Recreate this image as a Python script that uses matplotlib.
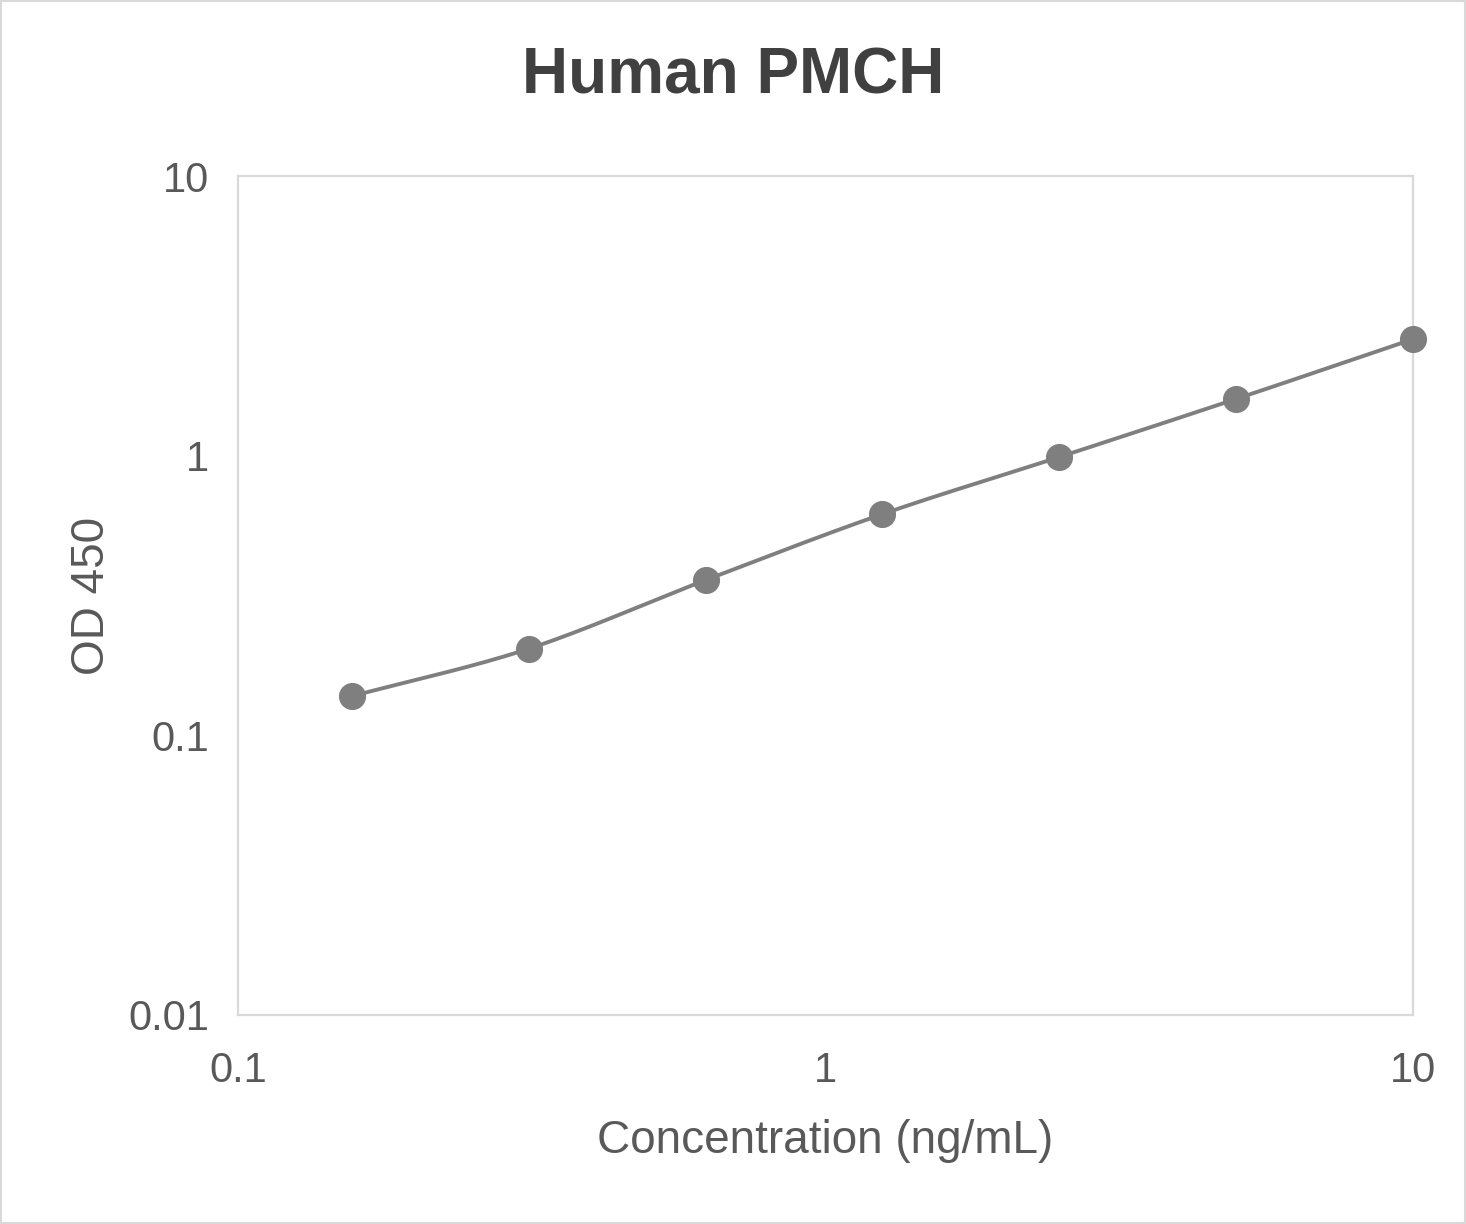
import numpy as np
import matplotlib
matplotlib.use("Agg")
import matplotlib.pyplot as plt
from matplotlib.patches import Rectangle

conc = [0.15625, 0.3125, 0.625, 1.25, 2.5, 5, 10]
od = [0.138, 0.204, 0.359, 0.618, 0.989, 1.595, 2.61]
xticks = [0.1, 1, 10]
xticklabels = ["0.1", "1", "10"]
yticks = [0.01, 0.1, 1, 10]
yticklabels = ["0.01", "0.1", "1", "10"]

plt.rcParams['font.family'] = ['Liberation Sans', 'DejaVu Sans']

W, H = 1466, 1224
fig = plt.figure(figsize=(W/100, H/100), dpi=100)
fig.patches.append(Rectangle((0.001, 0.001), 0.998, 0.998, transform=fig.transFigure,
                             fill=False, edgecolor='#d9d9d9', linewidth=1.5))
ax = fig.add_axes([238/W, 1 - 1015/H, (1413-238)/W, (1015-176)/H])
ax.set_xscale('log'); ax.set_yscale('log')
ax.set_xlim(0.1, 10); ax.set_ylim(0.01, 10)

# smooth curve (Catmull-Rom in log space)
lx = np.log10(conc); ly = np.log10(od)
P = np.column_stack([lx, ly])
Pext = np.vstack([2*P[0]-P[1], P, 2*P[-1]-P[-2]])
xs, ys = [], []
for i in range(1, len(Pext)-2):
    p0, p1, p2, p3 = Pext[i-1], Pext[i], Pext[i+1], Pext[i+2]
    t = np.linspace(0, 1, 30)[:, None]
    pts = 0.5*((2*p1) + (-p0+p2)*t + (2*p0-5*p1+4*p2-p3)*t**2 + (-p0+3*p1-3*p2+p3)*t**3)
    xs.extend(pts[:, 0]); ys.extend(pts[:, 1])
ax.plot(10**np.array(xs), 10**np.array(ys), color='#7f7f7f', linewidth=2.8, zorder=3, clip_on=False)
ax.plot(conc, od, 'o', color='#7f7f7f', markersize=18.5, zorder=4, clip_on=False)

for s in ax.spines.values():
    s.set_color('#d9d9d9'); s.set_linewidth(1.6)
ax.set_xticks(xticks); ax.set_xticklabels(xticklabels)
ax.set_yticks(yticks); ax.set_yticklabels(yticklabels)
ax.minorticks_off()
ax.tick_params(axis='both', length=0, labelsize=30, labelcolor='#595959')
ax.tick_params(axis='x', pad=26)
ax.tick_params(axis='y', pad=21)
ax.set_xlabel('Concentration (ng/mL)', fontsize=33, color='#595959', labelpad=20)
ax.set_ylabel('OD 450', fontsize=33, color='#595959', labelpad=10)
fig.text(0.5, 1 - 76/H, 'Human PMCH', ha='center', va='center', fontsize=46,
         fontweight='bold', color='#404040')
fig.savefig('out.png', dpi=100)
